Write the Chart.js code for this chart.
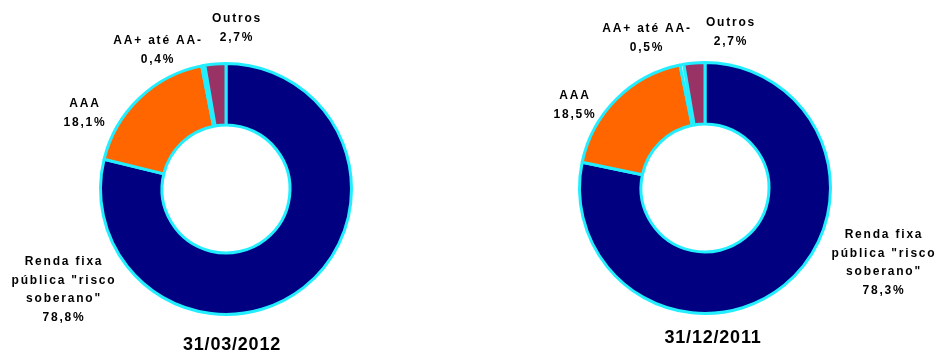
<!DOCTYPE html>
<html>
<head>
<meta charset="utf-8">
<script src="https://cdn.jsdelivr.net/npm/chart.js@4.4.1/dist/chart.umd.min.js"></script>
<style>
  body { margin: 0; background: #fff; }
  #wrap { position: relative; width: 936px; height: 354px; }
  .box { position: absolute; top: 0; width: 468px; height: 354px; }
</style>
</head>
<body>
<div id="wrap">
  <div class="box" style="left:0"><canvas id="chartMar"></canvas></div>
  <div class="box" style="left:468px"><canvas id="chartDez"></canvas></div>
</div>
<script>
// categories (one line per array entry)
let categories = [
    ['Renda fixa', 'pública "risco', 'soberano"'],
    ['AAA'],
    ['AA+ até AA-'],
    ['Outros']
];
let titles = ['31/03/2012', '31/12/2011'];
let valuesMar2012 = [78.8, 18.1, 0.4, 2.7];
let valuesDez2011 = [78.3, 18.5, 0.5, 2.7];

let sliceColors = ['#000080', '#FF6600', '#CCFFFF', '#993366'];
let ringColor = '#22EEFF';

// where the labels sit (canvas px, center of first line)
let labelSpotsMar = [{x: 63, y: 262}, {x: 84, y: 104}, {x: 157, y: 41}, {x: 236, y: 19}];
let labelSpotsDez = [{x: 415, y: 235}, {x: 106, y: 96}, {x: 178, y: 29}, {x: 262, y: 23}];

let pct = function (v) {
    return v.toFixed(1).replace('.', ',') + '%';
}

let labelPlugin = {
    id: 'sliceLabels',
    afterDraw: function (chart) {
        const ctx = chart.ctx;
        const opts = chart.options.plugins.sliceLabels;
        const values = chart.data.datasets[0].data;
        ctx.save();
        ctx.fillStyle = '#000';
        ctx.textAlign = 'center';
        ctx.textBaseline = 'middle';
        ctx.font = 'bold 12px "Liberation Sans", Arial, sans-serif';
        ctx.letterSpacing = '1.8px';
        categories.forEach(function (lines, i) {
            let spot = opts.spots[i];
            let all = lines.concat([pct(values[i])]);
            all.forEach(function (txt, j) {
                ctx.fillText(txt, spot.x + 1, spot.y + j * 18.5);
            });
        });
        ctx.letterSpacing = '0.8px';
        ctx.font = 'bold 18px "Liberation Sans", Arial, sans-serif';
        ctx.fillText(opts.title, opts.titleX, opts.titleY);
        ctx.restore();
    }
}

let makeDonut = function (id, values, spots, title, pad, titleX, titleY) {
    const ctx = document.getElementById(id).getContext('2d');
    return new Chart(ctx, {
        type: 'doughnut',
        data: {
            labels: categories.map(function (l) { return l.join(' '); }),
            datasets: [{
                data: values,
                backgroundColor: sliceColors,
                borderColor: ringColor,
                borderWidth: 3
            }]
        },
        options: {
            responsive: false,
            animation: false,
            cutout: '51%',
            layout: { padding: pad },
            plugins: {
                legend: { display: false },
                tooltip: { enabled: false },
                sliceLabels: { spots: spots, title: title, titleX: titleX, titleY: titleY }
            }
        },
        plugins: [labelPlugin]
    });
}

document.getElementById('chartMar').width = 468;
document.getElementById('chartMar').height = 354;
document.getElementById('chartDez').width = 468;
document.getElementById('chartDez').height = 354;

makeDonut('chartMar', valuesMar2012, labelSpotsMar, titles[0],
    {left: 99, right: 115, top: 62, bottom: 38}, 232, 345);
makeDonut('chartDez', valuesDez2011, labelSpotsDez, titles[1],
    {left: 110, right: 104, top: 61, bottom: 39}, 245, 338);
</script>
</body>
</html>
